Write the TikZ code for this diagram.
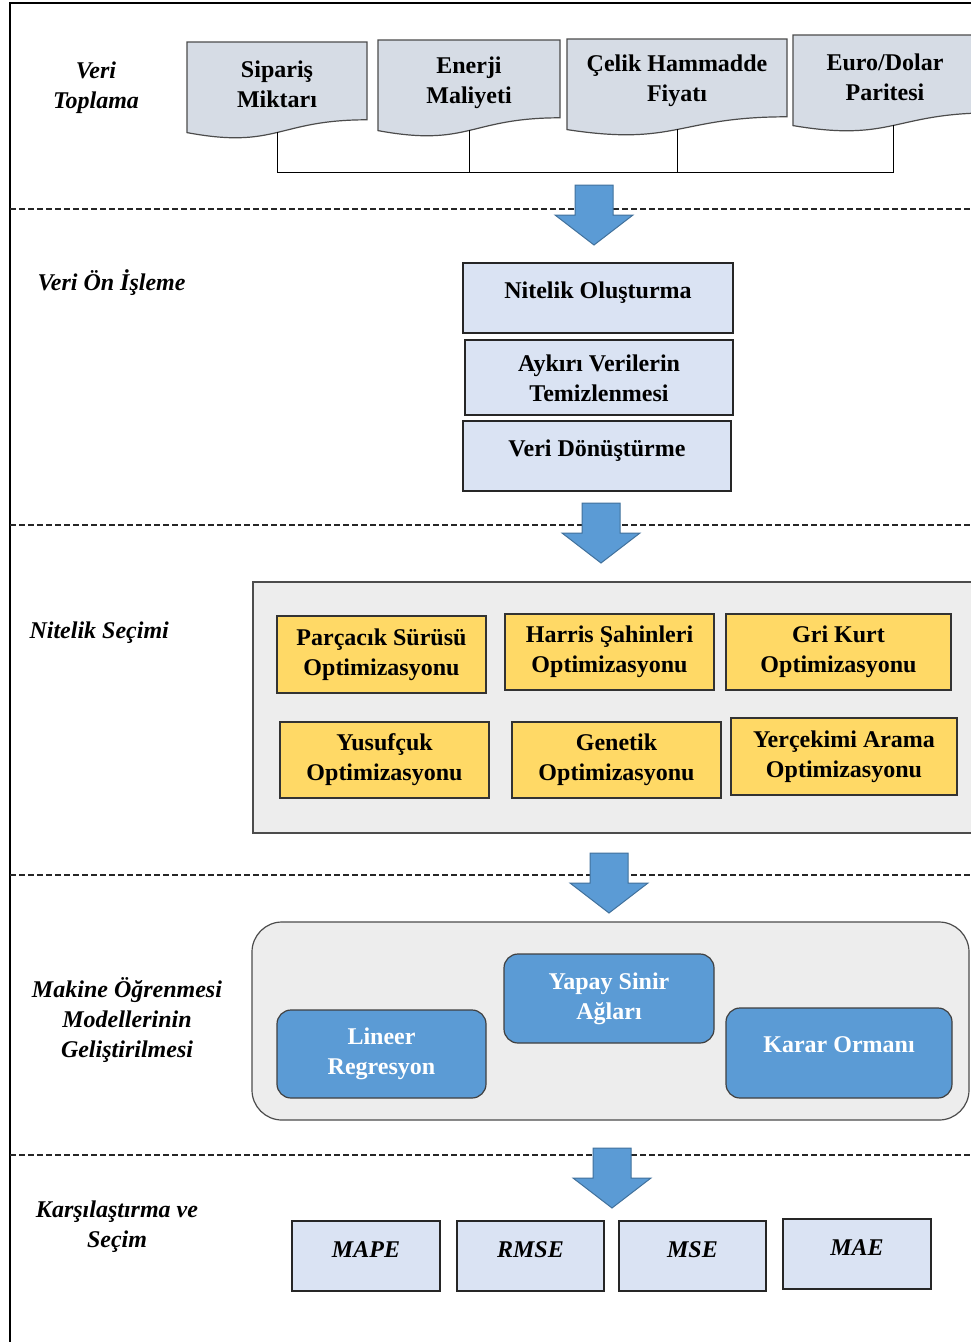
\documentclass[tikz,border=0pt]{standalone}
\usepackage{xcolor}
\usepackage{fontspec}
\setmainfont{Liberation Serif}
\usepackage{tikz}
\usetikzlibrary{calc}

\definecolor{docgray}{HTML}{D6DCE5}
\definecolor{stepblue}{HTML}{DAE3F3}
\definecolor{panelgray}{HTML}{EDEDED}
\definecolor{optyellow}{HTML}{FFD966}
\definecolor{modelblue}{HTML}{5B9BD5}
\definecolor{arrowedge}{HTML}{41719C}

\tikzset{
  docbox/.style={draw=black!70, fill=docgray, line width=1.2pt},
  stepbox/.style={draw=black!85, fill=stepblue, line width=1.2pt},
  panel/.style={draw=black!70, fill=panelgray, line width=1.2pt},
  optbox/.style={draw=black!80, fill=optyellow, line width=1.2pt},
  modelbox/.style={draw=black!75, fill=modelblue, line width=1.2pt, rounded corners=14pt},
  blockarrow/.style={draw=arrowedge, fill=modelblue, line width=1pt},
  sepline/.style={black!85, line width=1.1pt, dash pattern=on 6pt off 3pt},
  wire/.style={line width=1pt},
  phase/.style={font=\fontsize{24}{30}\selectfont\bfseries\itshape, align=center},
  lbl/.style={font=\fontsize{24}{30}\selectfont\bfseries, align=center},
  metric/.style={font=\fontsize{24}{30}\selectfont\bfseries\itshape},
}

% document shape: x, y, width, height
\newcommand{\docshape}[4]{%
  \draw[docbox] (#1,#2) -- ++(#3,0) -- ++(0,0.802*#4)
    .. controls (#1+0.5*#3,#2+0.802*#4) and (#1+0.5*#3,#2+1.1075*#4)
    .. (#1,#2+0.934*#4) -- cycle;}

\begin{document}
\begin{tikzpicture}[x=1pt,y=-1pt]
  \clip (0,0) rectangle (971,1342);
  \fill[white] (0,0) rectangle (971,1342);

  % frame and separators
  \draw[line width=1.2pt] (10,1342) -- (10,3) -- (971,3);
  \foreach \y in {209,525,875,1155}
    \draw[sepline] (10,\y) -- (971,\y);

  % Veri Toplama
  \node[phase] (toplama) at (96,88) {Veri\\Toplama};
  \docshape{187}{42}{180}{97}
  \docshape{378}{40}{182}{97}
  \docshape{567}{39}{220}{97}
  \docshape{793}{35}{200}{97}
  \node[lbl] (siparis) at (277,84) {Sipariş\\Miktarı};
  \node[lbl] (enerji) at (469,83) {Enerji\\Maliyeti};
  \node[lbl] (celik) at (677,81) {Çelik Hammadde\\Fiyatı};
  \node[lbl] (euro) at (885,77) {Euro/Dolar\\Paritesi};
  \coordinate (sipb) at (277,132);
  \coordinate (enb) at (469,130);
  \coordinate (celb) at (677,129);
  \coordinate (eurb) at (893,125);
  \coordinate (bus) at (277,172);
  \draw[wire] (sipb) -- (bus) -| (eurb);
  \draw[wire] (enb) -- (enb |- bus);
  \draw[wire] (celb) -- (celb |- bus);

  % arrows between phases
  \foreach \x/\y in {594/185, 601/503, 609/853, 612/1148}
    \draw[blockarrow] (\x-19,\y) -- (\x+19,\y) -- (\x+19,\y+30) -- (\x+39,\y+30)
      -- (\x,\y+60) -- (\x-39,\y+30) -- (\x-19,\y+30) -- cycle;

  % Veri On Isleme
  \node[phase, anchor=west] (onisleme) at (34,283) {Veri Ön İşleme};
  \draw[stepbox] (463,263) rectangle (733,333) node[midway, lbl, yshift=5pt] (nitol) {Nitelik Oluşturma};
  \draw[stepbox] (465,340) rectangle (733,415) node[midway, lbl, yshift=-1pt] (aykiri) {Aykırı Verilerin\\Temizlenmesi};
  \draw[stepbox] (463,421) rectangle (731,491) node[midway, lbl, yshift=5pt] (donus) {Veri Dönüştürme};

  % Nitelik Secimi
  \node[phase, anchor=west] (secim) at (26,633) {Nitelik Seçimi};
  \draw[panel] (253,582) rectangle (980,833);
  \draw[optbox] (277,616) rectangle (486,693) node[midway, lbl] (pso) {Parçacık Sürüsü\\Optimizasyonu};
  \draw[optbox] (505,614) rectangle (714,690) node[midway, lbl] (harris) {Harris Şahinleri\\Optimizasyonu};
  \draw[optbox] (726,614) rectangle (951,690) node[midway, lbl] (grikurt) {Gri Kurt\\Optimizasyonu};
  \draw[optbox] (280,722) rectangle (489,798) node[midway, lbl] (yusuf) {Yusufçuk\\Optimizasyonu};
  \draw[optbox] (512,722) rectangle (721,798) node[midway, lbl] (genetik) {Genetik\\Optimizasyonu};
  \draw[optbox] (731,718) rectangle (957,795) node[midway, lbl] (yercekim) {Yerçekimi Arama\\Optimizasyonu};

  % Makine Ogrenmesi
  \node[phase] (makine) at (127,1020) {Makine Öğrenmesi\\Modellerinin\\Geliştirilmesi};
  \draw[panel, rounded corners=30pt] (252,922) rectangle (969,1120);
  \draw[modelbox] (277,1010) rectangle (486,1098) node[midway, lbl, white] (lineer) {Lineer\\Regresyon};
  \draw[modelbox] (504,954) rectangle (714,1043) node[midway, lbl, white] (yapay) {Yapay Sinir\\Ağları};
  \draw[modelbox] (726,1008) rectangle (952,1098) node[midway, lbl, white, yshift=8pt] (karar) {Karar Ormanı};

  % Karsilastirma
  \node[phase] (karsi) at (117,1227) {Karşılaştırma ve\\Seçim};
  \draw[stepbox] (292,1221) rectangle (440,1291) node[midway, metric, yshift=6pt] (mape) {MAPE};
  \draw[stepbox] (457,1221) rectangle (604,1291) node[midway, metric, yshift=6pt] (rmse) {RMSE};
  \draw[stepbox] (619,1221) rectangle (766,1291) node[midway, metric, yshift=6pt] (mse) {MSE};
  \draw[stepbox] (783,1219) rectangle (931,1289) node[midway, metric, yshift=6pt] (mae) {MAE};
\end{tikzpicture}
\end{document}
